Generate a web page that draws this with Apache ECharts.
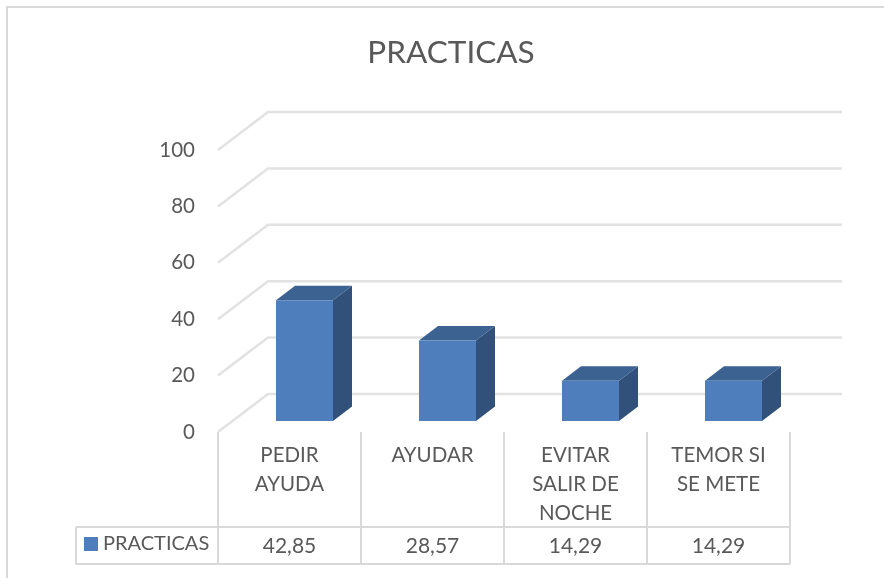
<!DOCTYPE html>
<html>
<head>
<meta charset="utf-8">
<script src="https://cdn.jsdelivr.net/npm/echarts@6/dist/echarts.min.js"></script>
<style>
html, body { margin: 0; padding: 0; background: #fff; }
#main { width: 884px; height: 578px; }
</style>
</head>
<body>
<div id="main"></div>
<script>
var categories = ['PEDIR\nAYUDA', 'AYUDAR', 'EVITAR\nSALIR DE\nNOCHE', 'TEMOR SI\nSE METE'];
var practicas = [42.85, 28.57, 14.29, 14.29];
var yTicks = [0, 20, 40, 60, 80, 100];
var valueLabels = ['42,85', '28,57', '14,29', '14,29'];

var textColor = '#595959';
var lineColor = '#d9d9d9';
var font = 'Lato, "Open Sans", sans-serif';

// fake 3d: how far the back wall sits from the front plane
var wallDx = 50, wallDy = -38;
var barW = 57, barDx = 19, barDy = -14.5;
var barOffX = 15, barOffY = -11;

var myChart = echarts.init(document.getElementById('main'));

function renderWall(params, api) {
    var cs = params.coordSys;
    var y = api.coord([0, api.value(1)])[1];
    return {
        type: 'polyline',
        silent: true,
        shape: {
            points: [
                [cs.x, y],
                [cs.x + wallDx, y + wallDy],
                [cs.x + cs.width + 52, y + wallDy]
            ]
        },
        style: { stroke: '#e2e2e2', lineWidth: 2.5, fill: null }
    };
}

function renderBar(params, api) {
    var base = api.coord([api.value(0), 0]);
    var top = api.coord([api.value(0), api.value(1)]);
    var x0 = base[0] + barOffX - barW / 2;
    var x1 = x0 + barW;
    var y0 = base[1] + barOffY;
    var y1 = top[1] + barOffY;
    return {
        type: 'group',
        children: [
            {
                type: 'polygon',
                shape: { points: [[x1, y0], [x1, y1], [x1 + barDx, y1 + barDy], [x1 + barDx, y0 + barDy]] },
                style: { fill: '#31517a' }
            },
            {
                type: 'polygon',
                shape: { points: [[x0, y1], [x1, y1], [x1 + barDx, y1 + barDy], [x0 + barDx, y1 + barDy]] },
                style: { fill: '#3b6291' }
            },
            {
                type: 'rect',
                shape: { x: x0, y: y1, width: barW, height: y0 - y1 },
                style: { fill: '#4e7fbc' }
            }
        ]
    };
}

function renderTableValue(params, api) {
    var base = api.coord([api.value(0), 0]);
    return {
        type: 'text',
        silent: true,
        style: {
            text: valueLabels[params.dataIndex],
            x: base[0],
            y: base[1] + 114,
            align: 'center',
            verticalAlign: 'middle',
            fill: textColor,
            font: '21px ' + font
        }
    };
}

var option = {
    animation: false,
    backgroundColor: '#fff',
    title: {
        text: 'PRACTICAS',
        left: 446,
        top: 32,
        textAlign: 'center',
        textStyle: { color: textColor, fontSize: 31.5, fontWeight: 'normal', fontFamily: font }
    },
    legend: {
        data: ['PRACTICAS'],
        left: 84,
        top: 534,
        padding: 0,
        itemWidth: 14,
        itemHeight: 14,
        itemGap: 0,
        icon: 'rect',
        selectedMode: false,
        textStyle: { color: textColor, fontSize: 20, fontFamily: font }
    },
    grid: { left: 218, top: 150, width: 572, height: 282 },
    xAxis: {
        type: 'category',
        data: categories,
        axisLine: { show: false },
        axisTick: { show: true, length: 132, lineStyle: { color: lineColor, width: 2 } },
        axisLabel: {
            interval: 0,
            margin: 9,
            color: textColor,
            fontSize: 20.5,
            lineHeight: 29,
            fontFamily: font
        }
    },
    yAxis: {
        type: 'value',
        min: 0,
        max: 100,
        interval: 20,
        axisLine: { show: false },
        axisTick: { show: false },
        splitLine: { show: false },
        axisLabel: { margin: 23, color: textColor, fontSize: 20.5, fontFamily: font }
    },
    series: [
        {
            type: 'custom',
            renderItem: renderWall,
            clip: false,
            silent: true,
            z: 1,
            encode: { x: 0, y: 1 },
            data: yTicks.map(function (t) { return [0, t]; })
        },
        {
            name: 'PRACTICAS',
            type: 'custom',
            renderItem: renderBar,
            clip: false,
            z: 3,
            itemStyle: { color: '#4e7fbc' },
            encode: { x: 0, y: 1 },
            data: practicas.map(function (v, i) { return [i, v]; })
        },
        {
            type: 'custom',
            renderItem: renderTableValue,
            clip: false,
            silent: true,
            z: 4,
            encode: { x: 0, y: 1 },
            data: practicas.map(function (v, i) { return [i, v]; })
        }
    ],
    graphic: [
        // chart frame, cut off by the screenshot on the right and bottom
        {
            type: 'polyline',
            silent: true,
            shape: { points: [[7, 578], [7, 7], [884, 7]] },
            style: { stroke: lineColor, lineWidth: 2, fill: null }
        },
        // data table outline
        {
            type: 'polyline',
            silent: true,
            shape: { points: [[76, 527], [790, 527]] },
            style: { stroke: lineColor, lineWidth: 2, fill: null }
        },
        {
            type: 'polyline',
            silent: true,
            shape: { points: [[76, 527], [76, 564], [790, 564]] },
            style: { stroke: lineColor, lineWidth: 2, fill: null }
        }
    ]
};

myChart.setOption(option);
</script>
</body>
</html>
